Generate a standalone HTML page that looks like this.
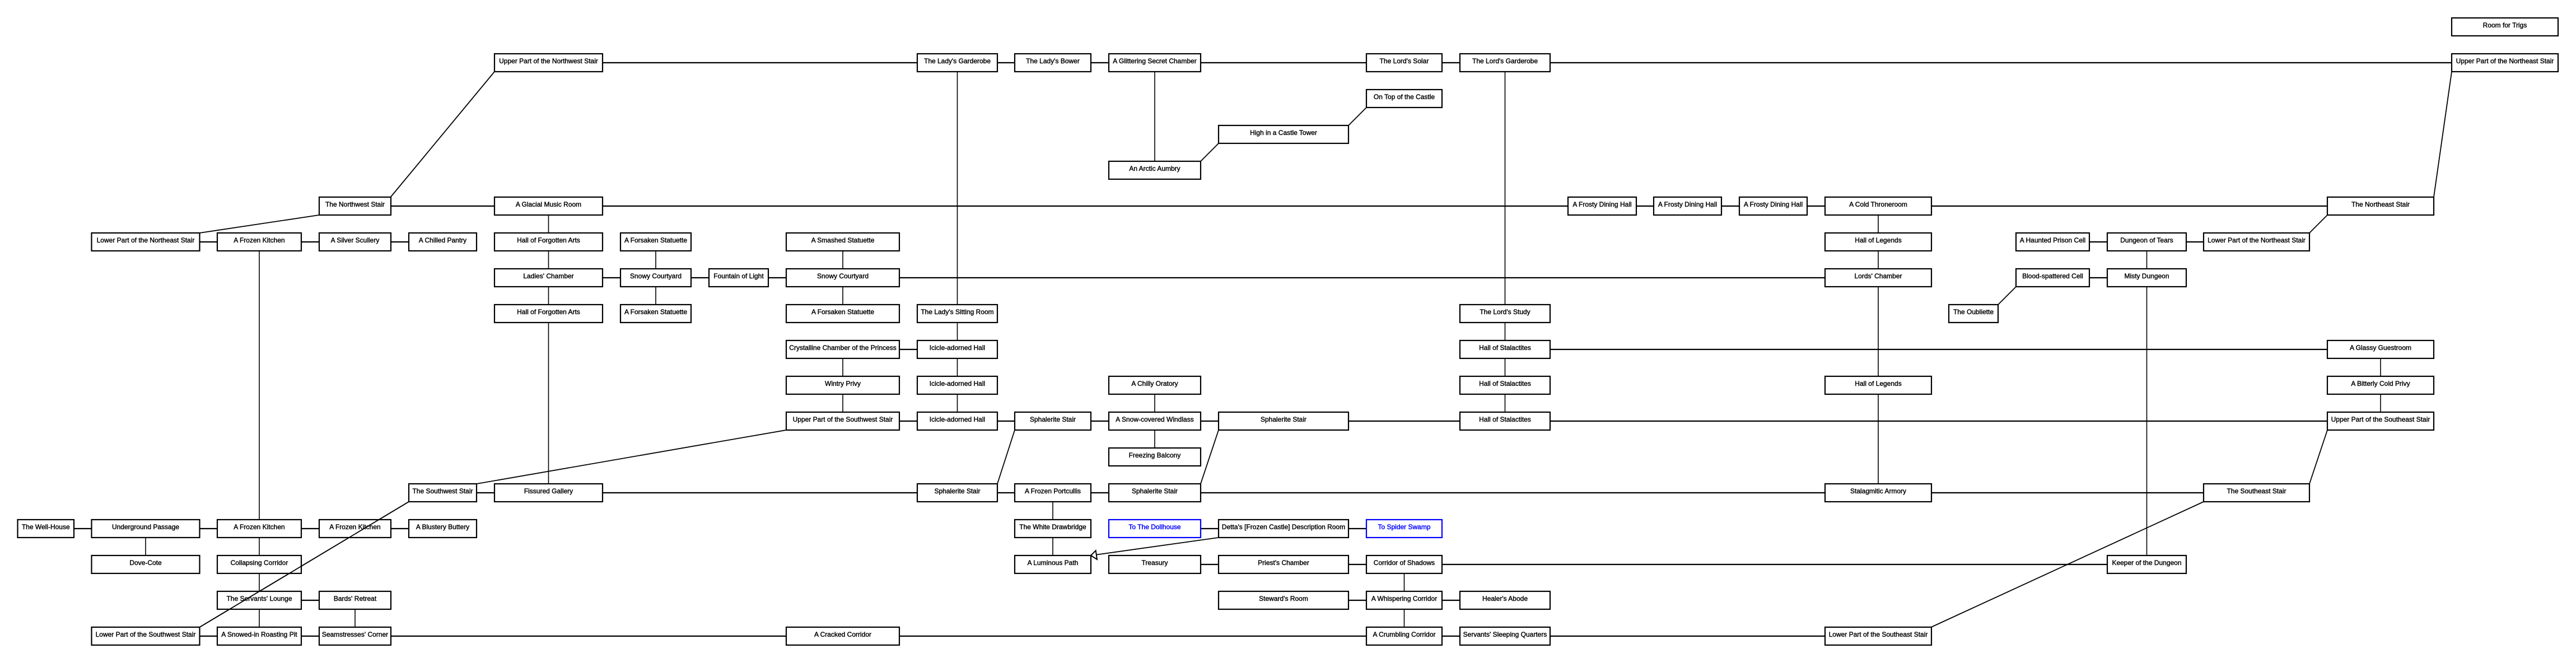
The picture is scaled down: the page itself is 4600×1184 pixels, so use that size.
<!DOCTYPE html>
<html><head><meta charset="utf-8"><style>
html,body{margin:0;padding:0;background:#fff;}
svg{display:block;}
rect{fill:#fff;stroke:#000;stroke-width:2.2;}
rect.b{stroke:#0000ff;}
text{font-family:"Liberation Sans",sans-serif;font-size:12px;text-anchor:middle;fill:#000;stroke:#000;stroke-width:0.4;}
text.b{fill:#0000ff;stroke:#0000ff;}
.h{stroke:#000;stroke-width:2.2;fill:none;}
.v{stroke:#000;stroke-width:1.6;fill:none;}
.d{stroke:#000;stroke-width:1.8;fill:none;}
</style></head><body>
<svg width="4600" height="1184" viewBox="0 0 4600 1184" xmlns="http://www.w3.org/2000/svg">
<rect x="0" y="0" width="4600" height="1184" style="fill:#fff;stroke:none"/>
<line class="h" x1="979.5" y1="112" x2="4473" y2="112"/>
<line class="h" x1="634" y1="368" x2="4251" y2="368"/>
<line class="h" x1="260" y1="432" x2="790.5" y2="432"/>
<line class="h" x1="3665.5" y1="432" x2="4029.5" y2="432"/>
<line class="h" x1="979.5" y1="496" x2="3354" y2="496"/>
<line class="h" x1="3665.5" y1="496" x2="3833.5" y2="496"/>
<line class="h" x1="1505" y1="624" x2="1709.5" y2="624"/>
<line class="h" x1="2687.5" y1="624" x2="4251" y2="624"/>
<line class="h" x1="1505" y1="752" x2="4251" y2="752"/>
<line class="h" x1="790.5" y1="880" x2="4029.5" y2="880"/>
<line class="h" x1="81.75" y1="944" x2="790.5" y2="944"/>
<line class="h" x1="2062" y1="944" x2="2507.5" y2="944"/>
<line class="h" x1="2062" y1="1008" x2="3833.5" y2="1008"/>
<line class="h" x1="463" y1="1072" x2="634" y2="1072"/>
<line class="h" x1="2292" y1="1072" x2="2687.5" y2="1072"/>
<line class="h" x1="260" y1="1136" x2="3354" y2="1136"/>
<line class="v" x1="260" y1="944" x2="260" y2="1008"/>
<line class="v" x1="463" y1="432" x2="463" y2="1136"/>
<line class="v" x1="634" y1="1072" x2="634" y2="1136"/>
<line class="v" x1="979.5" y1="368" x2="979.5" y2="880"/>
<line class="v" x1="1171" y1="432" x2="1171" y2="560"/>
<line class="v" x1="1505" y1="432" x2="1505" y2="560"/>
<line class="v" x1="1505" y1="624" x2="1505" y2="752"/>
<line class="v" x1="1709.5" y1="112" x2="1709.5" y2="752"/>
<line class="v" x1="1880" y1="880" x2="1880" y2="1008"/>
<line class="v" x1="2062" y1="112" x2="2062" y2="304"/>
<line class="v" x1="2062" y1="688" x2="2062" y2="816"/>
<line class="v" x1="2507.5" y1="1008" x2="2507.5" y2="1136"/>
<line class="v" x1="2687.5" y1="112" x2="2687.5" y2="752"/>
<line class="v" x1="3354" y1="368" x2="3354" y2="880"/>
<line class="v" x1="3833.5" y1="432" x2="3833.5" y2="1008"/>
<line class="v" x1="4251" y1="624" x2="4251" y2="752"/>
<line class="d" x1="697.5" y1="352" x2="883" y2="128"/>
<line class="d" x1="570" y1="384" x2="356.5" y2="416"/>
<line class="d" x1="2144" y1="288" x2="2176" y2="256"/>
<line class="d" x1="2408" y1="224" x2="2440" y2="192"/>
<line class="d" x1="4346" y1="352" x2="4378" y2="128"/>
<line class="d" x1="4156" y1="384" x2="4124" y2="416"/>
<line class="d" x1="3600" y1="512" x2="3568" y2="544"/>
<line class="d" x1="851" y1="864" x2="1404" y2="768"/>
<line class="d" x1="730" y1="896" x2="356.5" y2="1120"/>
<line class="d" x1="1812" y1="768" x2="1781" y2="864"/>
<line class="d" x1="2176" y1="768" x2="2144" y2="864"/>
<line class="d" x1="4156" y1="768" x2="4124" y2="864"/>
<line class="d" x1="3935" y1="896" x2="3448.5" y2="1120"/>
<line class="d" x1="2176" y1="960" x2="1958" y2="990.6"/>

<rect x="4378" y="32" width="190" height="32"/><text x="4473" y="49">Room for Trigs</text>
<rect x="883" y="96" width="193" height="32"/><text x="979.5" y="113">Upper Part of the Northwest Stair</text>
<rect x="1638" y="96" width="143" height="32"/><text x="1709.5" y="113">The Lady's Garderobe</text>
<rect x="1812" y="96" width="136" height="32"/><text x="1880" y="113">The Lady's Bower</text>
<rect x="1980" y="96" width="164" height="32"/><text x="2062" y="113">A Glittering Secret Chamber</text>
<rect x="2440" y="96" width="135" height="32"/><text x="2507.5" y="113">The Lord's Solar</text>
<rect x="2607" y="96" width="161" height="32"/><text x="2687.5" y="113">The Lord's Garderobe</text>
<rect x="4378" y="96" width="190" height="32"/><text x="4473" y="113">Upper Part of the Northeast Stair</text>
<rect x="2440" y="160" width="135" height="32"/><text x="2507.5" y="177">On Top of the Castle</text>
<rect x="2176" y="224" width="232" height="32"/><text x="2292" y="241">High in a Castle Tower</text>
<rect x="1980" y="288" width="164" height="32"/><text x="2062" y="305">An Arctic Aumbry</text>
<rect x="570" y="352" width="128" height="32"/><text x="634" y="369">The Northwest Stair</text>
<rect x="883" y="352" width="193" height="32"/><text x="979.5" y="369">A Glacial Music Room</text>
<rect x="2800" y="352" width="122" height="32"/><text x="2861" y="369">A Frosty Dining Hall</text>
<rect x="2953" y="352" width="121" height="32"/><text x="3013.5" y="369">A Frosty Dining Hall</text>
<rect x="3106" y="352" width="121" height="32"/><text x="3166.5" y="369">A Frosty Dining Hall</text>
<rect x="3259" y="352" width="190" height="32"/><text x="3354" y="369">A Cold Throneroom</text>
<rect x="4156" y="352" width="190" height="32"/><text x="4251" y="369">The Northeast Stair</text>
<rect x="163.5" y="416" width="193" height="32"/><text x="260" y="433">Lower Part of the Northeast Stair</text>
<rect x="388" y="416" width="150" height="32"/><text x="463" y="433">A Frozen Kitchen</text>
<rect x="570" y="416" width="128" height="32"/><text x="634" y="433">A Silver Scullery</text>
<rect x="730" y="416" width="121" height="32"/><text x="790.5" y="433">A Chilled Pantry</text>
<rect x="883" y="416" width="193" height="32"/><text x="979.5" y="433">Hall of Forgotten Arts</text>
<rect x="1108" y="416" width="126" height="32"/><text x="1171" y="433">A Forsaken Statuette</text>
<rect x="1404" y="416" width="202" height="32"/><text x="1505" y="433">A Smashed Statuette</text>
<rect x="3259" y="416" width="190" height="32"/><text x="3354" y="433">Hall of Legends</text>
<rect x="3600" y="416" width="131" height="32"/><text x="3665.5" y="433">A Haunted Prison Cell</text>
<rect x="3763" y="416" width="141" height="32"/><text x="3833.5" y="433">Dungeon of Tears</text>
<rect x="3935" y="416" width="189" height="32"/><text x="4029.5" y="433">Lower Part of the Northeast Stair</text>
<rect x="883" y="480" width="193" height="32"/><text x="979.5" y="497">Ladies' Chamber</text>
<rect x="1108" y="480" width="126" height="32"/><text x="1171" y="497">Snowy Courtyard</text>
<rect x="1266" y="480" width="106" height="32"/><text x="1319" y="497">Fountain of Light</text>
<rect x="1404" y="480" width="202" height="32"/><text x="1505" y="497">Snowy Courtyard</text>
<rect x="3259" y="480" width="190" height="32"/><text x="3354" y="497">Lords' Chamber</text>
<rect x="3600" y="480" width="131" height="32"/><text x="3665.5" y="497">Blood-spattered Cell</text>
<rect x="3763" y="480" width="141" height="32"/><text x="3833.5" y="497">Misty Dungeon</text>
<rect x="883" y="544" width="193" height="32"/><text x="979.5" y="561">Hall of Forgotten Arts</text>
<rect x="1108" y="544" width="126" height="32"/><text x="1171" y="561">A Forsaken Statuette</text>
<rect x="1404" y="544" width="202" height="32"/><text x="1505" y="561">A Forsaken Statuette</text>
<rect x="1638" y="544" width="143" height="32"/><text x="1709.5" y="561">The Lady's Sitting Room</text>
<rect x="2607" y="544" width="161" height="32"/><text x="2687.5" y="561">The Lord's Study</text>
<rect x="3480" y="544" width="88" height="32"/><text x="3524" y="561">The Oubliette</text>
<rect x="1404" y="608" width="202" height="32"/><text x="1505" y="625">Crystalline Chamber of the Princess</text>
<rect x="1638" y="608" width="143" height="32"/><text x="1709.5" y="625">Icicle-adorned Hall</text>
<rect x="2607" y="608" width="161" height="32"/><text x="2687.5" y="625">Hall of Stalactites</text>
<rect x="4156" y="608" width="190" height="32"/><text x="4251" y="625">A Glassy Guestroom</text>
<rect x="1404" y="672" width="202" height="32"/><text x="1505" y="689">Wintry Privy</text>
<rect x="1638" y="672" width="143" height="32"/><text x="1709.5" y="689">Icicle-adorned Hall</text>
<rect x="1980" y="672" width="164" height="32"/><text x="2062" y="689">A Chilly Oratory</text>
<rect x="2607" y="672" width="161" height="32"/><text x="2687.5" y="689">Hall of Stalactites</text>
<rect x="3259" y="672" width="190" height="32"/><text x="3354" y="689">Hall of Legends</text>
<rect x="4156" y="672" width="190" height="32"/><text x="4251" y="689">A Bitterly Cold Privy</text>
<rect x="1404" y="736" width="202" height="32"/><text x="1505" y="753">Upper Part of the Southwest Stair</text>
<rect x="1638" y="736" width="143" height="32"/><text x="1709.5" y="753">Icicle-adorned Hall</text>
<rect x="1812" y="736" width="136" height="32"/><text x="1880" y="753">Sphalerite Stair</text>
<rect x="1980" y="736" width="164" height="32"/><text x="2062" y="753">A Snow-covered Windlass</text>
<rect x="2176" y="736" width="232" height="32"/><text x="2292" y="753">Sphalerite Stair</text>
<rect x="2607" y="736" width="161" height="32"/><text x="2687.5" y="753">Hall of Stalactites</text>
<rect x="4156" y="736" width="190" height="32"/><text x="4251" y="753">Upper Part of the Southeast Stair</text>
<rect x="1980" y="800" width="164" height="32"/><text x="2062" y="817">Freezing Balcony</text>
<rect x="730" y="864" width="121" height="32"/><text x="790.5" y="881">The Southwest Stair</text>
<rect x="883" y="864" width="193" height="32"/><text x="979.5" y="881">Fissured Gallery</text>
<rect x="1638" y="864" width="143" height="32"/><text x="1709.5" y="881">Sphalerite Stair</text>
<rect x="1812" y="864" width="136" height="32"/><text x="1880" y="881">A Frozen Portcullis</text>
<rect x="1980" y="864" width="164" height="32"/><text x="2062" y="881">Sphalerite Stair</text>
<rect x="3259" y="864" width="190" height="32"/><text x="3354" y="881">Stalagmitic Armory</text>
<rect x="3935" y="864" width="189" height="32"/><text x="4029.5" y="881">The Southeast Stair</text>
<rect x="31.5" y="928" width="100.5" height="32"/><text x="81.75" y="945">The Well-House</text>
<rect x="163.5" y="928" width="193" height="32"/><text x="260" y="945">Underground Passage</text>
<rect x="388" y="928" width="150" height="32"/><text x="463" y="945">A Frozen Kitchen</text>
<rect x="570" y="928" width="128" height="32"/><text x="634" y="945">A Frozen Kitchen</text>
<rect x="730" y="928" width="121" height="32"/><text x="790.5" y="945">A Blustery Buttery</text>
<rect x="1812" y="928" width="136" height="32"/><text x="1880" y="945">The White Drawbridge</text>
<rect class="b" x="1980" y="928" width="164" height="32"/><text class="b" x="2062" y="945">To The Dollhouse</text>
<rect x="2176" y="928" width="232" height="32"/><text x="2292" y="945">Detta's [Frozen Castle] Description Room</text>
<rect class="b" x="2440" y="928" width="135" height="32"/><text class="b" x="2507.5" y="945">To Spider Swamp</text>
<rect x="163.5" y="992" width="193" height="32"/><text x="260" y="1009">Dove-Cote</text>
<rect x="388" y="992" width="150" height="32"/><text x="463" y="1009">Collapsing Corridor</text>
<rect x="1812" y="992" width="136" height="32"/><text x="1880" y="1009">A Luminous Path</text>
<rect x="1980" y="992" width="164" height="32"/><text x="2062" y="1009">Treasury</text>
<rect x="2176" y="992" width="232" height="32"/><text x="2292" y="1009">Priest's Chamber</text>
<rect x="2440" y="992" width="135" height="32"/><text x="2507.5" y="1009">Corridor of Shadows</text>
<rect x="3763" y="992" width="141" height="32"/><text x="3833.5" y="1009">Keeper of the Dungeon</text>
<rect x="388" y="1056" width="150" height="32"/><text x="463" y="1073">The Servants' Lounge</text>
<rect x="570" y="1056" width="128" height="32"/><text x="634" y="1073">Bards' Retreat</text>
<rect x="2176" y="1056" width="232" height="32"/><text x="2292" y="1073">Steward's Room</text>
<rect x="2440" y="1056" width="135" height="32"/><text x="2507.5" y="1073">A Whispering Corridor</text>
<rect x="2607" y="1056" width="161" height="32"/><text x="2687.5" y="1073">Healer's Abode</text>
<rect x="163.5" y="1120" width="193" height="32"/><text x="260" y="1137">Lower Part of the Southwest Stair</text>
<rect x="388" y="1120" width="150" height="32"/><text x="463" y="1137">A Snowed-in Roasting Pit</text>
<rect x="570" y="1120" width="128" height="32"/><text x="634" y="1137">Seamstresses' Corner</text>
<rect x="1404" y="1120" width="202" height="32"/><text x="1505" y="1137">A Cracked Corridor</text>
<rect x="2440" y="1120" width="135" height="32"/><text x="2507.5" y="1137">A Crumbling Corridor</text>
<rect x="2607" y="1120" width="161" height="32"/><text x="2687.5" y="1137">Servants' Sleeping Quarters</text>
<rect x="3259" y="1120" width="190" height="32"/><text x="3354" y="1137">Lower Part of the Southeast Stair</text>
<line class="d" x1="730" y1="896" x2="356.5" y2="1120"/>
<polygon points="1948,992 1959,999 1956.7,983.2" style="fill:#fff;stroke:#000;stroke-width:2"/>
</svg>
</body></html>
